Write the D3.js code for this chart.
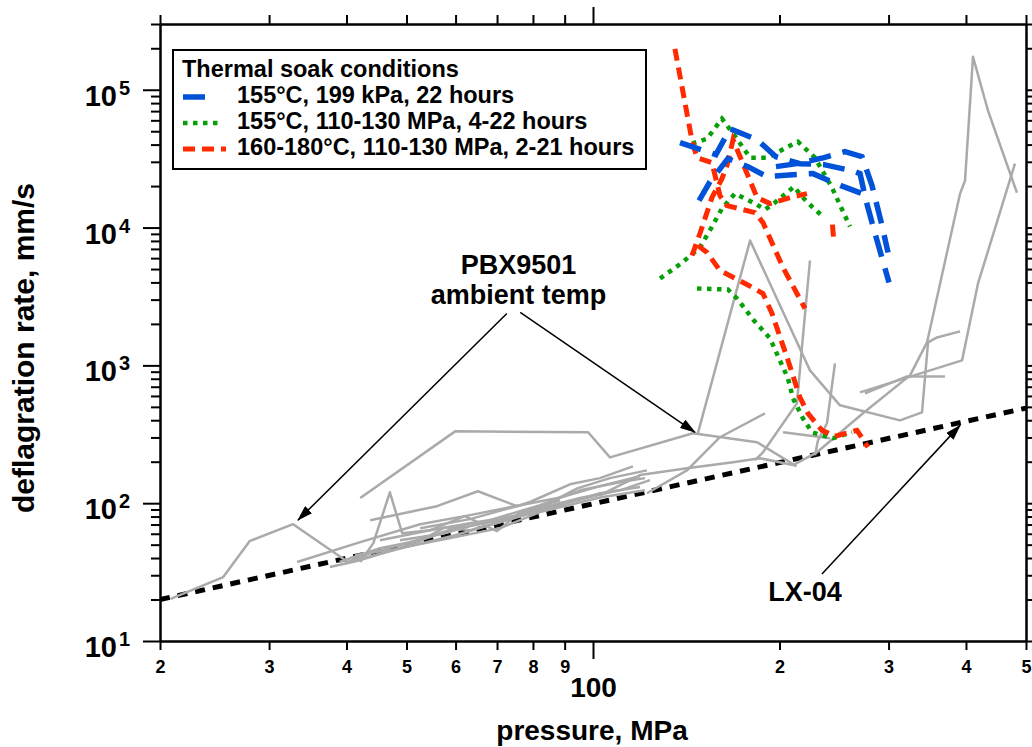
<!DOCTYPE html>
<html>
<head>
<meta charset="utf-8">
<script src="https://cdn.jsdelivr.net/npm/d3@7"></script>
<style>
  body { margin: 0; background: #fff; }
  text { font-family: "Liberation Sans", Arial, sans-serif; font-weight: bold; fill: #000; }
</style>
</head>
<body>
<div id="container"></div>
<script>
// ---- data (pressure MPa, deflagration rate mm/s) ----
let pbxAmbient = [
  [[20.8,20.2],[25.3,29.1],[27.9,53],[32.8,70.4],[40.2,37.4],[43.7,43.4]],
  [[42.1,109],[59.9,332],[98.2,327],[106.5,215],[145,322],[184,277],[208,198],[213,185]],
  [[43.7,75.3],[56,95.1],[65.2,122],[75.4,95.1],[79.1,102],[91.8,137],[102.6,152],[116,185]],
  [[42.1,37.4],[44.2,51.3],[47,120],[49.2,60.6],[54.6,63.7],[63.3,71.6]],
  [[33.3,37.4],[42.1,52.2],[52.6,70.4],[63.3,81.9],[76.3,96.7]],
  [[37.6,34.4],[42.1,38.6],[48.8,47.2],[58.8,55.8],[70.8,65.9],[82.1,86.1],[102.6,110],[121.3,124]],
  [[39,37.4],[45.3,47.2],[52.6,53.9],[61,65.9],[70.8,75.3],[82.1,92],[95.3,109],[110.5,124],[123.6,147]],
  [[40.5,39.9],[48.8,49.6],[54.6,57.7],[63.3,71.6],[76.3,81.9],[88.5,96.7],[102.6,118],[119.1,131]],
  [[39.8,36.7],[43.7,41.3],[50.7,48.8],[59.9,58.6],[68.2,69.3],[77.7,81.9],[90.1,100],[106.5,120]],
  [[41.3,42],[47.9,46.4],[52.6,53],[57.7,67],[63.3,63.7],[70.8,72.9],[83.7,96.7],[94.3,128],[106.5,152],[122.2,173]],
  [[45.3,53.9],[54.6,63.7],[62.1,80.5],[70,62.7],[76.3,86.1],[88.5,105]],
  [[52.6,65.9],[63.3,76.6],[76.3,96.7],[88.5,110],[102.6,133],[119.1,157]],
  [[48.8,53.9],[57.7,60.6],[68.2,75.3],[82.1,96.7],[95.3,124],[110.5,142],[121.3,152]],
  [[102.6,114],[119.1,160],[141.8,179],[168.3,198],[186,212],[210.3,189],[229.9,234],[272.8,449],[324.9,846],[346.1,1468],[391.3,17600],[398.6,21900],[410.6,173400],[434.2,70400],[483.5,17900]],
  [[147.7,322],[179.3,8050],[224,920],[250.4,513],[313,399],[339.7,456],[347.4,1468],[359.2,1595],[391.3,1764]],
  [[224,5767],[217.4,1350],[213.4,530],[208,449],[188.1,234],[182.6,205]],
  [[245.8,1034],[238.6,380],[230.8,286],[228.2,223]],
  [[202.6,327],[241.3,296]],
  [[269.8,637],[394.2,1087],[418.3,3929],[479.9,29090]],
  [[274.8,627],[321.3,832],[370,832]],
  [[122.2,118],[141.8,173],[160.3,301],[189.5,449]]
];

let soak155Ambient = [
  [[138.2,41300],[157.9,33810],[166.4,52150],[184,43420],[197.4,32690],[215.8,29090],[236,28610],[261.8,25880],[269.8,24620],[275.9,15690],[285.3,9048],[300.5,3995]],
  [[148.3,15690],[154.5,21540],[165.1,31620],[177.9,27670],[190.9,23420],[210.3,24210],[226.5,24620],[251.3,20150],[271.8,17640]],
  [[197.4,27670],[213.4,29090],[236,32150],[255.1,35540],[271.8,32690],[282.1,20150],[292.8,10340],[299.4,6590]]
];

let soak155Pressed = [
  [[144.5,40620],[152.8,44150],[161.5,61650],[170.2,44900],[179.3,32150],[191.6,32150],[206.4,38640],[214.2,42000],[228.2,32150],[243.1,19490],[259.9,10170]],
  [[128.3,4270],[138.7,5485],[148.8,7163],[155,9835],[161.5,13730],[169.5,17640],[182.6,14930],[189.5,13500],[196.7,15180],[211.1,19820],[218.2,16500],[226.5,13960],[235.1,12020]],
  [[147.2,3614],[165.1,3554],[170.8,3058],[181.3,2154],[193.1,1569],[199.6,1124],[206.4,805],[210.3,577],[218.2,413],[225.7,327],[244,296],[261.8,327]]
];

let soak160Pressed = [
  [[135.6,198000],[144.5,42700],[147.2,32150],[155.6,29580],[160.3,17060],[164.5,14430],[182.6,12840],[188.1,10870],[202.6,5131],[219.9,2588]],
  [[144.5,6269],[148.8,9048],[155.6,16500],[161.5,22650],[164.5,28130],[168.3,43420],[177.3,24620],[184,16500],[193.1,14930],[208,16500],[221.5,17640]],
  [[147.7,7406],[152.8,6590],[160.3,4880],[176,3929],[188.1,3325],[194.5,2381],[205.7,1143],[215.8,586],[222.3,449],[234.2,338],[245.8,306],[266.8,338],[277.9,255]],
  [[243.5,10500],[244.5,8460]]
];

let lx04 = [[20, 20], [500, 490]];

let xMinorTicks = [20, 30, 40, 50, 60, 70, 80, 90, 200, 300, 400, 500];
let xMajorTicks = [100];
let yExponents = [1, 2, 3, 4, 5];

let legendTitle = "Thermal soak conditions";
let legendLabels = [
  "155°C, 199 kPa, 22 hours",
  "155°C, 110-130 MPa, 4-22 hours",
  "160-180°C, 110-130 MPa, 2-21 hours"
];

// annotation anchors in data units
let pbxLabel = [75.8, 4641, 2767];
let pbxArrows = [
  [[72.6, 2381], [33.4, 75.3]],
  [[76.3, 2422], [146.1, 327]]
];
let lxLabel = [219.9, 19.5];
let lxArrow = [[234.2, 30.6], [391.3, 367]];

// ---- layout ----
let w = 1032;
let h = 747;
let padL = 160, padR = 1026, padT = 24, padB = 641;

let svg = d3.select("#container")
  .append("svg")
  .attr("width", w)
  .attr("height", h);

let xScale = d3.scaleLog().domain([20, 500]).range([padL, padR]);
let yScale = d3.scaleLog().domain([10, 3e5]).range([padB, padT]);

let line = d3.line()
  .x(d => xScale(d[0]))
  .y(d => yScale(d[1]));

svg.append("defs").append("clipPath").attr("id", "plotClip")
  .append("rect")
  .attr("x", padL).attr("y", padT)
  .attr("width", padR - padL).attr("height", padB - padT);

svg.select("defs").append("marker")
  .attr("id", "arrow")
  .attr("markerUnits", "userSpaceOnUse")
  .attr("markerWidth", 16).attr("markerHeight", 10)
  .attr("refX", 15).attr("refY", 5)
  .attr("orient", "auto")
  .append("path")
  .attr("d", "M0,0 L16,5 L0,10 Z")
  .attr("fill", "#000");

let plot = svg.append("g").attr("clip-path", "url(#plotClip)");

// LX-04 reference line
plot.append("path")
  .attr("d", line(lx04))
  .attr("fill", "none")
  .attr("stroke", "#000")
  .attr("stroke-width", 5)
  .attr("stroke-dasharray", "10,8");

// PBX9501 ambient runs
plot.selectAll(".grey")
  .data(pbxAmbient)
  .enter().append("path")
  .attr("class", "grey")
  .attr("d", line)
  .attr("fill", "none")
  .attr("stroke", "#aaaaaa")
  .attr("stroke-width", 2.5)
  .attr("stroke-linejoin", "round");

let styles = {
  blue:  { color: "#0052d9", width: 5.5, dash: "22,12" },
  green: { color: "#08a008", width: 4.5, dash: "4.5,5.5" },
  red:   { color: "#ff2a00", width: 5,   dash: "12,7" }
};

function drawRuns(runs, st, cls) {
  plot.selectAll("." + cls)
    .data(runs)
    .enter().append("path")
    .attr("class", cls)
    .attr("d", line)
    .attr("fill", "none")
    .attr("stroke", st.color)
    .attr("stroke-width", st.width)
    .attr("stroke-dasharray", st.dash);
}

drawRuns(soak155Pressed, styles.green, "green");
drawRuns(soak160Pressed, styles.red, "red");
drawRuns(soak155Ambient, styles.blue, "blue");

// ---- axes ----
function styleAxis(g) {
  g.selectAll("path, line").attr("stroke", "#000").attr("stroke-width", 2);
}

let yMajor = yExponents.map(e => Math.pow(10, e));
let yMinor = [];
yMajor.forEach(function (d) {
  for (let k = 2; k <= 9; k++) {
    if (d * k <= 3e5) yMinor.push(d * k);
  }
});

let xBottomMinor = svg.append("g")
  .attr("transform", "translate(0," + padB + ")")
  .call(d3.axisBottom(xScale).tickValues(xMinorTicks).tickSizeInner(9).tickSizeOuter(0)
    .tickPadding(10).tickFormat(d => String(d).charAt(0)));
xBottomMinor.selectAll("text").style("font-size", "18px");
styleAxis(xBottomMinor);

let xBottomMajor = svg.append("g")
  .attr("transform", "translate(0," + padB + ")")
  .call(d3.axisBottom(xScale).tickValues(xMajorTicks).tickSizeInner(18).tickSizeOuter(0)
    .tickPadding(18).tickFormat(d3.format("d")));
xBottomMajor.selectAll("text").style("font-size", "28px");
styleAxis(xBottomMajor);

let xTop = svg.append("g")
  .attr("transform", "translate(0," + padT + ")")
  .call(d3.axisTop(xScale).tickValues(xMinorTicks).tickSizeInner(9).tickSizeOuter(0).tickFormat(""));
styleAxis(xTop);
let xTopMajor = svg.append("g")
  .attr("transform", "translate(0," + padT + ")")
  .call(d3.axisTop(xScale).tickValues(xMajorTicks).tickSizeInner(17).tickSizeOuter(0).tickFormat(""));
styleAxis(xTopMajor);

let yLeftMinor = svg.append("g")
  .attr("transform", "translate(" + padL + ",0)")
  .call(d3.axisLeft(yScale).tickValues(yMinor).tickSizeInner(9).tickSizeOuter(0).tickFormat(""));
styleAxis(yLeftMinor);
let yLeftMajor = svg.append("g")
  .attr("transform", "translate(" + padL + ",0)")
  .call(d3.axisLeft(yScale).tickValues(yMajor).tickSizeInner(17).tickSizeOuter(0).tickFormat(""));
styleAxis(yLeftMajor);

let yRightMinor = svg.append("g")
  .attr("transform", "translate(" + padR + ",0)")
  .call(d3.axisRight(yScale).tickValues(yMinor).tickSizeInner(9).tickSizeOuter(0).tickFormat(""));
styleAxis(yRightMinor);
let yRightMajor = svg.append("g")
  .attr("transform", "translate(" + padR + ",0)")
  .call(d3.axisRight(yScale).tickValues(yMajor).tickSizeInner(17).tickSizeOuter(0).tickFormat(""));
styleAxis(yRightMajor);

// y tick labels with superscripts
let yLab = svg.append("g");
yExponents.forEach(function (e) {
  let yy = yScale(Math.pow(10, e));
  yLab.append("text")
    .attr("x", 117).attr("y", yy + 16)
    .attr("text-anchor", "end")
    .style("font-size", "29px")
    .text("10");
  yLab.append("text")
    .attr("x", 119).attr("y", yy + 5)
    .style("font-size", "20px")
    .text(e);
});

// axis titles
svg.append("text")
  .attr("x", 592).attr("y", 740)
  .attr("text-anchor", "middle")
  .style("font-size", "28px")
  .text("pressure, MPa");

svg.append("text")
  .attr("transform", "translate(34,348) rotate(-90)")
  .attr("text-anchor", "middle")
  .style("font-size", "30px")
  .text("deflagration rate, mm/s");

// ---- annotations ----
svg.append("text")
  .attr("x", xScale(pbxLabel[0])).attr("y", yScale(pbxLabel[1]))
  .attr("text-anchor", "middle")
  .style("font-size", "27px")
  .text("PBX9501");
svg.append("text")
  .attr("x", xScale(pbxLabel[0])).attr("y", yScale(pbxLabel[2]))
  .attr("text-anchor", "middle")
  .style("font-size", "27px")
  .text("ambient temp");

pbxArrows.concat([lxArrow]).forEach(function (a) {
  svg.append("line")
    .attr("x1", xScale(a[0][0])).attr("y1", yScale(a[0][1]))
    .attr("x2", xScale(a[1][0])).attr("y2", yScale(a[1][1]))
    .attr("stroke", "#000")
    .attr("stroke-width", 1.5)
    .attr("marker-end", "url(#arrow)");
});

svg.append("text")
  .attr("x", xScale(lxLabel[0])).attr("y", yScale(lxLabel[1]))
  .attr("text-anchor", "middle")
  .style("font-size", "27px")
  .text("LX-04");

// ---- legend ----
let legend = svg.append("g");
legend.append("rect")
  .attr("x", 173).attr("y", 50)
  .attr("width", 473).attr("height", 119)
  .attr("fill", "#fff")
  .attr("stroke", "#000")
  .attr("stroke-width", 2);

legend.append("text")
  .attr("x", 182).attr("y", 77)
  .style("font-size", "23.5px")
  .text(legendTitle);

let legendStyles = [styles.blue, styles.green, styles.red];
let swatchEnd = [207, 218, 226];
legendLabels.forEach(function (lab, i) {
  let by = 103 + i * 26;
  legend.append("line")
    .attr("x1", 183).attr("x2", swatchEnd[i])
    .attr("y1", by - 6).attr("y2", by - 6)
    .attr("stroke", legendStyles[i].color)
    .attr("stroke-width", legendStyles[i].width)
    .attr("stroke-dasharray", legendStyles[i].dash);
  legend.append("text")
    .attr("x", 237).attr("y", by)
    .style("font-size", "23.5px")
    .text(lab);
});
</script>
</body>
</html>
